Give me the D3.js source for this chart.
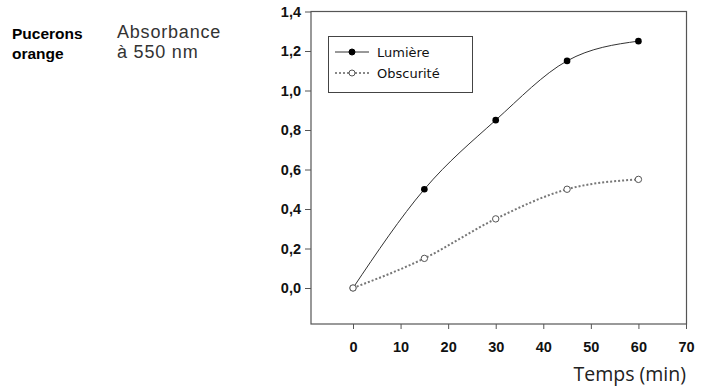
<!DOCTYPE html>
<html><head><meta charset="utf-8">
<script src="https://cdn.jsdelivr.net/npm/d3@7"></script>
<style>body{margin:0;background:#fff}svg{display:block}</style>
</head><body>
<svg id="c" width="702" height="388"></svg>
<script>
const times = [0, 15, 30, 45, 60];
const lumiere = [0, 0.5, 0.85, 1.15, 1.25];
const obscurite = [0, 0.15, 0.35, 0.5, 0.55];
const xTicks = [0, 10, 20, 30, 40, 50, 60, 70];
const yTicks = [0, 0.2, 0.4, 0.6, 0.8, 1.0, 1.2, 1.4];
const seriesNames = ["Lumière", "Obscurité"];

const svg = d3.select("#c");
const x = d3.scaleLinear().domain([0, 70]).range([353, 686]);
const y = d3.scaleLinear().domain([0, 1.4]).range([288, 11.5]);
const L = 311, R = 686.5, T = 11.5, B = 324;
const fmt = d => d3.format(".1f")(d).replace(".", ",");
const af = "Liberation Sans, Arial, sans-serif";

// frame
svg.append("rect").attr("x", L).attr("y", T).attr("width", R - L).attr("height", B - T)
  .attr("fill", "none").attr("stroke", "#555").attr("stroke-width", 1.2);

// y axis
const ya = svg.append("g").attr("transform", `translate(${L},0)`)
  .call(d3.axisLeft(y).tickValues(yTicks).tickFormat(fmt).tickSize(6).tickPadding(4));
ya.select(".domain").remove();
ya.selectAll("line").attr("stroke", "#555");
ya.selectAll("text").attr("font-family", af)
  .attr("font-weight", "bold").attr("font-size", 14.5).attr("fill", "#111");

// x axis
const xa = svg.append("g").attr("transform", `translate(0,${B})`)
  .call(d3.axisBottom(x).tickValues(xTicks).tickFormat(d3.format("d")).tickSize(5).tickPadding(13));
xa.select(".domain").remove();
xa.selectAll("line").attr("stroke", "#555");
xa.selectAll("text").attr("font-family", af)
  .attr("font-weight", "bold").attr("font-size", 14.5).attr("fill", "#111");

// lines
const line = d3.line().x(d => x(d[0])).y(d => y(d[1])).curve(d3.curveMonotoneX);
const dl = times.map((t, i) => [t, lumiere[i]]);
const dob = times.map((t, i) => [t, obscurite[i]]);

svg.append("path").datum(dob).attr("d", line).attr("fill", "none")
  .attr("stroke", "#777").attr("stroke-width", 2).attr("stroke-dasharray", "2,2");
svg.append("path").datum(dl).attr("d", line).attr("fill", "none")
  .attr("stroke", "#333").attr("stroke-width", 1);

svg.selectAll(".pl").data(dl).enter().append("circle")
  .attr("cx", d => x(d[0])).attr("cy", d => y(d[1])).attr("r", 3.3)
  .attr("fill", "#000");
svg.selectAll(".po").data(dob).enter().append("circle")
  .attr("cx", d => x(d[0])).attr("cy", d => y(d[1])).attr("r", 3.2)
  .attr("fill", "#fff").attr("stroke", "#555").attr("stroke-width", 1);

// legend
svg.append("rect").attr("x", 328.5).attr("y", 36.5).attr("width", 144).attr("height", 56)
  .attr("fill", "#fff").attr("stroke", "#444").attr("stroke-width", 1);
const lg = [[52, "#333", 1, null, "#000", "#000"], [73, "#888", 2, "2,2", "#fff", "#555"]];
lg.forEach((s, i) => {
  svg.append("line").attr("x1", 335).attr("x2", 369).attr("y1", s[0]).attr("y2", s[0])
    .attr("stroke", s[1]).attr("stroke-width", s[2]).attr("stroke-dasharray", s[3]);
  svg.append("circle").attr("cx", 352).attr("cy", s[0]).attr("r", 3)
    .attr("fill", s[4]).attr("stroke", s[5]).attr("stroke-width", 1);
  svg.append("text").attr("x", 377).attr("y", s[0] + 4.5).text(seriesNames[i])
    .attr("font-family", "DejaVu Sans, sans-serif").attr("font-size", 13).attr("fill", "#111");
});

// titles
const t1 = svg.append("text").attr("font-family", af).attr("font-weight", "bold")
  .attr("font-size", 15.5).attr("fill", "#000");
t1.append("tspan").attr("x", 12).attr("y", 39).text("Pucerons");
t1.append("tspan").attr("x", 12).attr("y", 59).text("orange");
svg.append("text").attr("x", 117).attr("y", 37.5).text("Absorbance")
  .attr("font-family", af).attr("font-size", 18).attr("letter-spacing", 0.8).attr("fill", "#333");
svg.append("text").attr("x", 117).attr("y", 58).text("à 550 nm")
  .attr("font-family", af).attr("font-size", 18).attr("letter-spacing", 0.8).attr("fill", "#333");
svg.append("text").attr("x", 686).attr("y", 381).attr("text-anchor", "end").text("Temps (min)")
  .attr("font-family", "Open Sans, sans-serif").attr("font-size", 19.5).attr("fill", "#222");
</script>
</body></html>
